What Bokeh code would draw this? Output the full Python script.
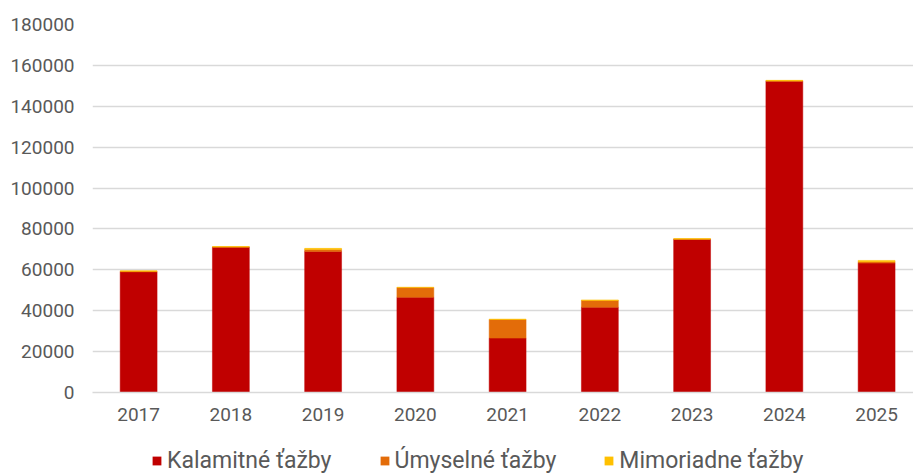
from bokeh.plotting import figure
from bokeh.layouts import column
from bokeh.models import ColumnDataSource, Range1d, Legend, LegendItem, FixedTicker, BasicTickFormatter
from bokeh.embed import file_html
from bokeh.resources import INLINE

years = ["2017", "2018", "2019", "2020", "2021", "2022", "2023", "2024", "2025"]
kalamitne = [59000, 71000, 69000, 46600, 26600, 41700, 74900, 152300, 63300]
umyselne = [300, 200, 1000, 4700, 9100, 3300, 100, 100, 700]
mimoriadne = [200, 200, 500, 200, 200, 300, 300, 300, 600]
y_ticks = [0, 20000, 40000, 60000, 80000, 100000, 120000, 140000, 160000, 180000]

series = ["Kalamitné ťažby", "Úmyselné ťažby", "Mimoriadne ťažby"]
colors = ["#C00000", "#E36C09", "#FFC000"]

x = list(range(len(years)))
source = ColumnDataSource(dict(x=x, k=kalamitne, u=umyselne, m=mimoriadne))

FONT = "Roboto"
GRAY = "#595959"

p = figure(width=913, height=430, output_backend="svg", toolbar_location=None,
           x_range=Range1d(-0.5, 8.4), y_range=Range1d(0, 180000),
           min_border_left=92, min_border_right=0, min_border_top=24, min_border_bottom=38)
p.outline_line_color = None
p.background_fill_color = "white"
p.border_fill_color = "white"

renderers = p.vbar_stack(["k", "u", "m"], x="x", width=0.4, source=source,
                         color=colors, line_width=0.5)

p.xgrid.grid_line_color = None
p.ygrid.grid_line_color = "#D9D9D9"
p.ygrid.grid_line_width = 1.5
p.ygrid.ticker = FixedTicker(ticks=y_ticks)

p.yaxis.ticker = FixedTicker(ticks=y_ticks)
p.yaxis.formatter = BasicTickFormatter(use_scientific=False)
p.yaxis.axis_line_color = None
p.yaxis.major_tick_line_color = None
p.yaxis.minor_tick_line_color = None
p.yaxis.major_label_standoff = 12
p.yaxis.major_label_text_font = FONT
p.yaxis.major_label_text_font_size = "19px"
p.yaxis.major_label_text_color = GRAY

p.xaxis.ticker = FixedTicker(ticks=x)
p.xaxis.major_label_overrides = {i: y for i, y in enumerate(years)}
p.xaxis.axis_line_color = "#D9D9D9"
p.xaxis.axis_line_width = 1.5
p.xaxis.major_tick_line_color = None
p.xaxis.minor_tick_line_color = None
p.xaxis.major_label_standoff = 9
p.xaxis.major_label_text_font = FONT
p.xaxis.major_label_text_font_size = "19px"
p.xaxis.major_label_text_color = GRAY

# legend strip below the chart (zero-height key bars, only their legend swatches show)
lp = figure(width=913, height=44, output_backend="svg", toolbar_location=None,
            x_range=Range1d(0, 1), y_range=Range1d(0, 1),
            min_border_left=0, min_border_right=0, min_border_top=0, min_border_bottom=0)
lp.axis.visible = False
lp.grid.visible = False
lp.outline_line_color = None
lp.border_fill_color = "white"
key = ColumnDataSource(dict(x=[0], top=[0]))
leg_renderers = [lp.vbar(x="x", top="top", width=0.0, fill_color=c, line_color=c,
                         line_width=0, source=key) for c in colors]

legend = Legend(items=[LegendItem(label=s, renderers=[r]) for s, r in zip(series, leg_renderers)],
                orientation="horizontal", location=(59, 0),
                label_text_font=FONT, label_text_font_size="23px", label_text_color=GRAY,
                glyph_width=11, glyph_height=11, label_height=24, label_standoff=5, spacing=47,
                border_line_color=None, background_fill_alpha=0, margin=0, padding=2)
lp.add_layout(legend, "center")

layout = column(p, lp, spacing=0)
open("out.html", "w").write(file_html(layout, INLINE))
